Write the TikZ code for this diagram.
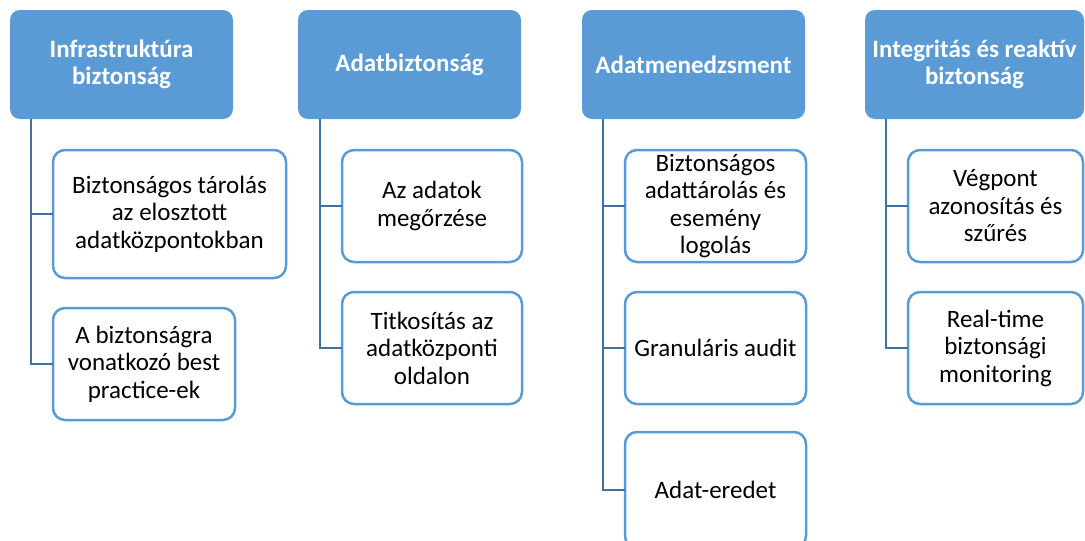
\documentclass[tikz,border=0pt]{standalone}
\usepackage{fontspec}
\setmainfont{Carlito}
\definecolor{hdrblue}{HTML}{5B9BD5}
\definecolor{linkblue}{HTML}{41719C}
\tikzset{
  hdr/.style={draw=none, fill=hdrblue, rounded corners=10pt, inner sep=0pt, outer sep=0pt,
    text=white, align=center, font=\bfseries\fontsize{25}{27.5}\selectfont},
  leaf/.style={draw=hdrblue, line width=2.5pt, fill=white, rounded corners=12pt, inner sep=0pt, outer sep=0pt,
    text=black, align=center, font=\fontsize{25}{27.5}\selectfont},
  link/.style={draw=linkblue, line width=2.5pt},
}
\newcommand{\bx}[6]{% style, name, x1, y1, x2, y2 -- text follows
  \node[#1, minimum width={#5-#3}, minimum height={#6-#4}] (#2) at ({(#3+#5)/2},{(#4+#6)/2})}
\begin{document}
\begin{tikzpicture}[x=1pt,y=-1pt]
\clip (0,0) rectangle (1085,541);
\fill[white] (0,0) rectangle (1085,541);
% headers
\bx{hdr}{h1}{10}{10}{233}{119} {Infrastruktúra\\biztonság};
\bx{hdr}{h2}{298}{10}{521}{119} {Adatbiztonság};
\bx{hdr}{h3}{582}{10}{805}{119} {Adatmenedzsment};
\bx{hdr}{h4}{865}{10}{1084}{119} {Integritás és reaktív\\biztonság};
% leaves
\bx{leaf}{c11}{53}{150}{286}{278} {Biztonságos tárolás\\az elosztott\\adatközpontokban};
\bx{leaf}{c12}{53}{308}{235}{420} {A biztonságra\\vonatkozó best\\practice-ek};
\bx{leaf}{c21}{342}{150}{522}{262} {Az adatok\\megőrzése};
\bx{leaf}{c22}{342}{292}{522}{404} {Titkosítás az\\adatközponti\\oldalon};
\bx{leaf}{c31}{625}{150}{806}{262} {Biztonságos\\adattárolás és\\esemény\\logolás};
\bx{leaf}{c32}{625}{292}{806}{404} {Granuláris audit};
\bx{leaf}{c33}{625}{432}{806}{548} {Adat-eredet};
\bx{leaf}{c41}{908}{150}{1083}{262} {Végpont\\azonosítás és\\szűrés};
\bx{leaf}{c42}{908}{292}{1083}{404} {Real-time\\biztonsági\\monitoring};
% connectors
\draw[link] ([xshift=21pt]h1.south west) |- (c11.west);
\draw[link] ([xshift=21pt]h1.south west) |- (c12.west);
\draw[link] ([xshift=22pt]h2.south west) |- (c21.west);
\draw[link] ([xshift=22pt]h2.south west) |- (c22.west);
\draw[link] ([xshift=21pt]h3.south west) |- (c31.west);
\draw[link] ([xshift=21pt]h3.south west) |- (c32.west);
\draw[link] ([xshift=21pt]h3.south west) |- (c33.west);
\draw[link] ([xshift=21pt]h4.south west) |- (c41.west);
\draw[link] ([xshift=21pt]h4.south west) |- (c42.west);
\end{tikzpicture}
\end{document}
